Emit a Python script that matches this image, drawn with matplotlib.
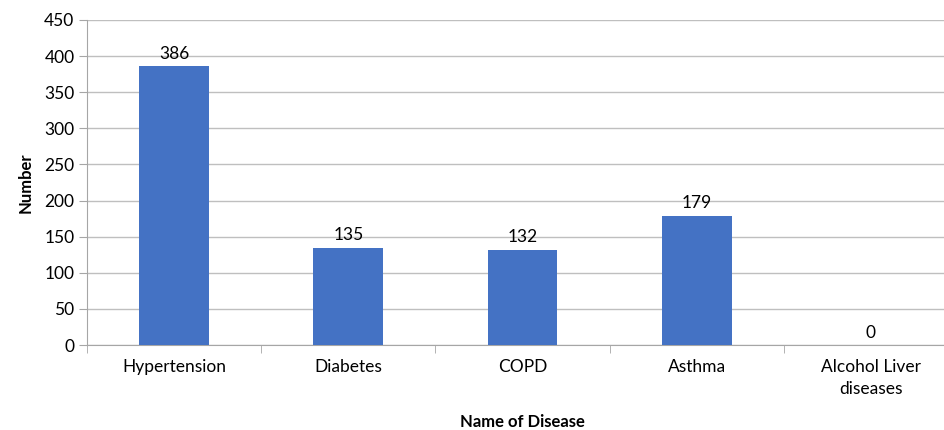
import numpy as np
import matplotlib.pyplot as plt
from matplotlib.ticker import FixedLocator

diseases = ["Hypertension", "Diabetes", "COPD", "Asthma", "Alcohol Liver\ndiseases"]
counts = [386, 135, 132, 179, 0]
y_ticks = [0, 50, 100, 150, 200, 250, 300, 350, 400, 450]

plt.rcParams['font.family'] = ['Lato', 'DejaVu Sans']

fig = plt.figure(figsize=(9.45, 4.3), dpi=100)
ax = fig.add_axes([87/945, 85/430, 871/945, 325/430])

x = np.arange(len(diseases))
ax.bar(x, counts, width=0.4, color="#4472C4", zorder=3)
for xi, c in zip(x, counts):
    ax.text(xi, c + 6, str(c), ha="center", va="bottom", fontsize=12.5, color="#000000")

ax.set_xlim(-0.5, len(diseases) - 0.5)
ax.set_ylim(0, 450)
ax.set_yticks(y_ticks)
ax.tick_params(axis="y", labelsize=12.5, length=6, color="#A6A6A6", pad=3)
ax.yaxis.grid(True, color="#BFBFBF", linewidth=1, zorder=0)

ax.set_xticks(x)
ax.set_xticklabels(diseases, fontsize=12.5, linespacing=1.45)
ax.tick_params(axis="x", which="major", length=0, pad=10)
ax.xaxis.set_minor_locator(FixedLocator(np.arange(-0.5, len(diseases), 1.0)))
ax.tick_params(axis="x", which="minor", length=6, color="#A6A6A6")

for s in ["top", "right"]:
    ax.spines[s].set_visible(False)
ax.spines["left"].set_color("#A6A6A6")
ax.spines["bottom"].set_color("#A6A6A6")

ax.set_ylabel("Number", fontsize=12, fontweight="bold", labelpad=8)
fig.text(522/945, 8/430, "Name of Disease", fontsize=12, fontweight="bold",
         ha="center", va="center")

fig.savefig("out.png", dpi=100)
